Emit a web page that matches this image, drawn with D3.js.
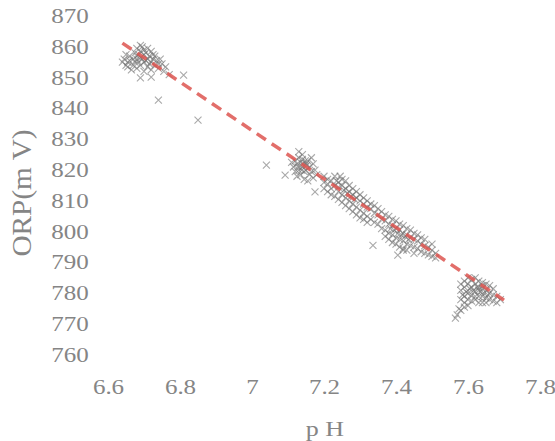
<!DOCTYPE html>
<html>
<head>
<meta charset="utf-8">
<script src="https://cdn.jsdelivr.net/npm/d3@7"></script>
<style>
  body { margin: 0; background: #fff; }
  svg { display: block; }
</style>
</head>
<body>
<svg width="555" height="441"></svg>
<script>
// tick values
const xTicks = [6.6, 6.8, 7, 7.2, 7.4, 7.6, 7.8];
const yTicks = [760, 770, 780, 790, 800, 810, 820, 830, 840, 850, 860, 870];

// measured points [pH, ORP], grouped by cluster
const cluster1 = [
  [6.64,855],[6.65,854],[6.645,856],[6.655,853.5],[6.66,855.5],[6.66,857],[6.67,856],[6.67,854],
  [6.675,858],[6.68,859.5],[6.68,857],[6.685,855],[6.69,858.5],[6.69,856.5],[6.695,860],[6.70,857.5],
  [6.70,855],[6.705,858],[6.71,856],[6.71,853.5],[6.715,857],[6.72,855],[6.72,858.5],[6.725,856],
  [6.73,854],[6.73,857],[6.735,855.5],[6.74,853],[6.745,856],[6.75,854.5],[6.665,852.5],[6.70,852],
  [6.72,852.5],[6.68,853],[6.65,857.5],[6.69,854],[6.755,852],[6.76,853.5],
  [6.675,855],[6.685,857.5],[6.695,856],[6.705,855.5],[6.715,854.5],[6.725,857.5],[6.70,859],
  [6.69,860.5],[6.71,859.5],[6.74,854.5],[6.655,855],[6.68,856]
];
const outliers1 = [
  [6.69,849.9],[6.72,850.2],[6.81,850.8],[6.74,842.7],[6.85,836.2],[6.77,851],[7.04,821.6]
];
const cluster2 = [
  [7.115,821],[7.12,823],[7.12,819.5],[7.125,822],[7.13,824],[7.13,820],[7.135,822.5],[7.135,818.5],
  [7.14,821],[7.14,823.5],[7.145,819.5],[7.15,822],[7.15,820],[7.155,823],[7.16,818.5],[7.16,821],
  [7.165,819.5],[7.17,822],[7.17,817.5],[7.175,820],[7.125,818],[7.14,825],[7.145,817],[7.18,818.5],
  [7.11,822.5],[7.155,816.5],[7.13,826],[7.165,824],[7.092,818.4],[7.175,812.9],
  [7.128,821],[7.142,822],[7.152,821.5],[7.138,820],[7.148,823]
];
const cluster3 = [
  [7.20,816],[7.20,818],[7.20,814],[7.21,817],[7.21,813],[7.21,815.5],[7.22,816.5],[7.22,812],[7.22,814],
  [7.23,818],[7.23,815],[7.23,811.5],[7.24,816],[7.24,813],[7.24,810.5],[7.24,814.5],
  [7.25,817],[7.25,812],[7.25,815],[7.25,809.5],[7.26,814],[7.26,811],[7.26,816.5],[7.26,808.5],
  [7.27,813],[7.27,810],[7.27,815],[7.27,807.5],[7.28,812],[7.28,809],[7.28,814],[7.28,806.5],
  [7.29,811],[7.29,808],[7.29,813],[7.29,805.5],[7.30,810],[7.30,807],[7.30,812],[7.30,804.5],
  [7.31,809],[7.31,806],[7.31,811],[7.31,804],[7.32,808],[7.32,805],[7.32,810],[7.32,803],
  [7.33,807.5],[7.33,804],[7.33,809],[7.34,806],[7.34,803],[7.34,808.5],[7.35,805.5],[7.35,802.5],[7.35,807.5],
  [7.235,816.5],[7.245,818],[7.255,813.5],[7.265,812.5],[7.275,811.5],[7.285,810.5]
];
const cluster4 = [
  [7.36,804],[7.36,801],[7.36,806.5],[7.37,803.5],[7.37,800.5],[7.37,805.5],[7.37,798.5],
  [7.38,802.5],[7.38,799.5],[7.38,805],[7.38,797.5],[7.39,802],[7.39,799],[7.39,804],[7.39,796.5],
  [7.40,801],[7.40,798],[7.40,803.5],[7.40,796],[7.41,800.5],[7.41,797.5],[7.41,802.5],[7.41,795],
  [7.42,799.5],[7.42,797],[7.42,802],[7.42,794.5],[7.43,799],[7.43,796],[7.43,801],[7.43,794],
  [7.44,798],[7.44,795.5],[7.44,800.5],[7.45,797.5],[7.45,795],[7.45,799.5],[7.45,793],
  [7.46,797],[7.46,794.5],[7.46,799],[7.47,796],[7.47,793.5],[7.47,798],[7.48,795.5],[7.48,793],[7.48,797.5],
  [7.49,795],[7.49,792.5],[7.50,794],[7.50,792],[7.50,796],[7.51,793],[7.51,791.5],
  [7.336,795.6],[7.405,792.4],[7.42,794],
  [7.385,801],[7.395,800.5],[7.405,799.5],[7.415,799],[7.425,798.5],[7.435,797.5]
];
const cluster5 = [
  [7.58,781],[7.58,778],[7.58,783],[7.59,782],[7.59,779],[7.59,784],[7.59,777],
  [7.60,783],[7.60,780],[7.60,785],[7.60,778],[7.60,776],[7.61,782],[7.61,779.5],[7.61,784.5],[7.61,777.5],
  [7.62,783],[7.62,780.5],[7.62,785],[7.62,778],[7.63,782],[7.63,779],[7.63,784],[7.63,777],
  [7.64,781.5],[7.64,779],[7.64,783.5],[7.64,777],[7.65,781],[7.65,778.5],[7.65,783],
  [7.66,780],[7.66,778],[7.66,782.5],[7.67,779.5],[7.67,777.5],[7.67,781.5],[7.68,779],[7.68,777],[7.69,778],
  [7.575,775],[7.57,773],[7.58,774.5],[7.59,775.5],[7.565,772],
  [7.605,781.5],[7.615,781],[7.625,782],[7.635,780.5],[7.645,780],[7.655,779.5],[7.62,779],[7.64,782.5],
  [7.595,780.5],[7.63,781],[7.585,779.5],[7.65,777]
];

// fitted line end points
const fitPH = [6.64, 7.70];
const fitORP = [861.2, 777.8];

const points = [].concat(cluster1, outliers1, cluster2, cluster3, cluster4, cluster5);

const svg = d3.select('svg');
const textColor = '#858585';
const serif = '"Liberation Serif", "DejaVu Serif", serif';

const x = d3.scaleLinear().domain([6.6, 7.8]).range([108, 540]);
const y = d3.scaleLinear().domain([760, 870]).range([355, 16]);

// axes, no lines, only labels
const yAxis = svg.append('g')
  .attr('transform', 'translate(95,0)')
  .call(d3.axisLeft(y).tickValues(yTicks).tickSize(0).tickPadding(5).tickFormat(d3.format('d')));

const xAxis = svg.append('g')
  .attr('transform', 'translate(0,371)')
  .call(d3.axisBottom(x).tickValues(xTicks).tickSize(0).tickPadding(9).tickFormat(d => String(+d.toFixed(1))));

[yAxis, xAxis].forEach(ax => {
  ax.select('.domain').remove();
  ax.selectAll('text')
    .attr('fill', textColor)
    .style('font-family', serif)
    .style('font-size', '20px')
    .attr('transform', 'scale(1.25,1)');
});

// markers
svg.append('g').selectAll('path')
  .data(points).enter().append('path')
  .attr('d', 'M-3.5,-3.5L3.5,3.5M-3.5,3.5L3.5,-3.5')
  .attr('transform', d => `translate(${x(d[0])},${y(d[1])})`)
  .attr('stroke', '#6f6f6f')
  .attr('stroke-width', 1.1)
  .attr('stroke-opacity', 0.6)
  .attr('fill', 'none');

// fitted dashed line
svg.append('line')
  .attr('x1', x(fitPH[0])).attr('y1', y(fitORP[0]))
  .attr('x2', x(fitPH[1])).attr('y2', y(fitORP[1]))
  .attr('stroke', '#dd5550')
  .attr('stroke-opacity', 0.85)
  .attr('stroke-width', 3.5)
  .attr('stroke-dasharray', '11,7');

// axis titles
svg.append('text')
  .text('p H')
  .attr('transform', 'translate(325,436) scale(1.3,1)')
  .attr('text-anchor', 'middle')
  .attr('fill', textColor)
  .style('font-family', serif)
  .style('font-size', '20px');

svg.append('text')
  .text('ORP(m V)')
  .attr('transform', 'translate(31,193) rotate(-90)')
  .attr('text-anchor', 'middle')
  .attr('fill', textColor)
  .attr('textLength', 127)
  .attr('lengthAdjust', 'spacingAndGlyphs')
  .style('font-family', serif)
  .style('font-size', '27px');
</script>
</body>
</html>
